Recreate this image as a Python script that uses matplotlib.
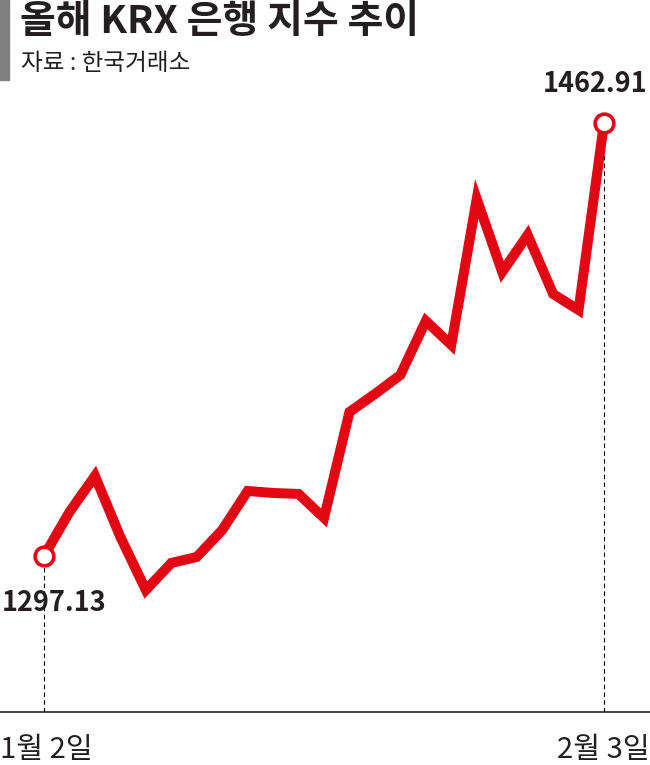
import matplotlib.pyplot as plt
from matplotlib.patches import Rectangle

plt.rcParams['font.family'] = ['Noto Sans CJK KR', 'DejaVu Sans']

# KRX 은행 지수, 1월 2일 ~ 2월 3일 (거래일)
values = [1297.13, 1313.98, 1327.76, 1304.40, 1284.11, 1294.45, 1296.75,
          1307.08, 1322.02, 1321.25, 1320.87, 1311.68, 1352.26, 1359.15,
          1366.43, 1387.10, 1377.91, 1433.81, 1405.86, 1420.03, 1397.44,
          1391.31, 1462.91]
days = list(range(len(values)))
start_label = '1월 2일'
end_label = '2월 3일'
title = '올해 KRX 은행 지수 추이'
source = '자료 : 한국거래소'

red = '#e30613'

fig = plt.figure(figsize=(6.5, 7.65), dpi=100)
ax = fig.add_axes([0, 0.0693, 1, 0.8])

ax.plot(days, values, color=red, lw=7.2, solid_joinstyle='miter', zorder=3)
for i in (0, len(values) - 1):
    ax.plot(days[i], values[i], 'o', ms=13.5, mfc='white', mec=red, mew=2.6, zorder=4)
    ax.plot([days[i], days[i]], [1237.4, values[i]], color='black', lw=0.8,
            ls=(0, (4, 3)), zorder=1)

ax.set_xlim(-1.729, 23.807)
ax.set_ylim(1237.4, 1471.7)
for s in ['top', 'right', 'left']:
    ax.spines[s].set_visible(False)
ax.spines['bottom'].set_linewidth(1.2)
ax.spines['bottom'].set_color('#222222')
ax.set_xticks([])
ax.set_yticks([])

# 시작/끝 값 라벨 (그림 안쪽에 맞춤)
fig.text(2 / 650, 1 - 603 / 765, f'{values[0]:.2f}', ha='left', va='center',
         fontsize=19.5, fontweight='bold', color='#231f20')
fig.text(647 / 650, 1 - 84 / 765, f'{values[-1]:.2f}', ha='right', va='center',
         fontsize=19.5, fontweight='bold', color='#231f20')

fig.text(0, 1 - 750 / 765, start_label, ha='left', va='center',
         fontsize=21, color='#231f20')
fig.text(1, 1 - 750 / 765, end_label, ha='right', va='center',
         fontsize=21, color='#231f20')

fig.patches.append(Rectangle((0, 1 - 80 / 765), 9 / 650, 80 / 765,
                             transform=fig.transFigure, color='#808080'))
fig.text(20 / 650, 1 - 22 / 765, title, ha='left', va='center',
         fontsize=28, fontweight='bold', color='#231f20')
fig.text(21 / 650, 1 - 64 / 765, source, ha='left', va='center',
         fontsize=17, color='#231f20')

fig.savefig('out.png', dpi=100, facecolor='white')
